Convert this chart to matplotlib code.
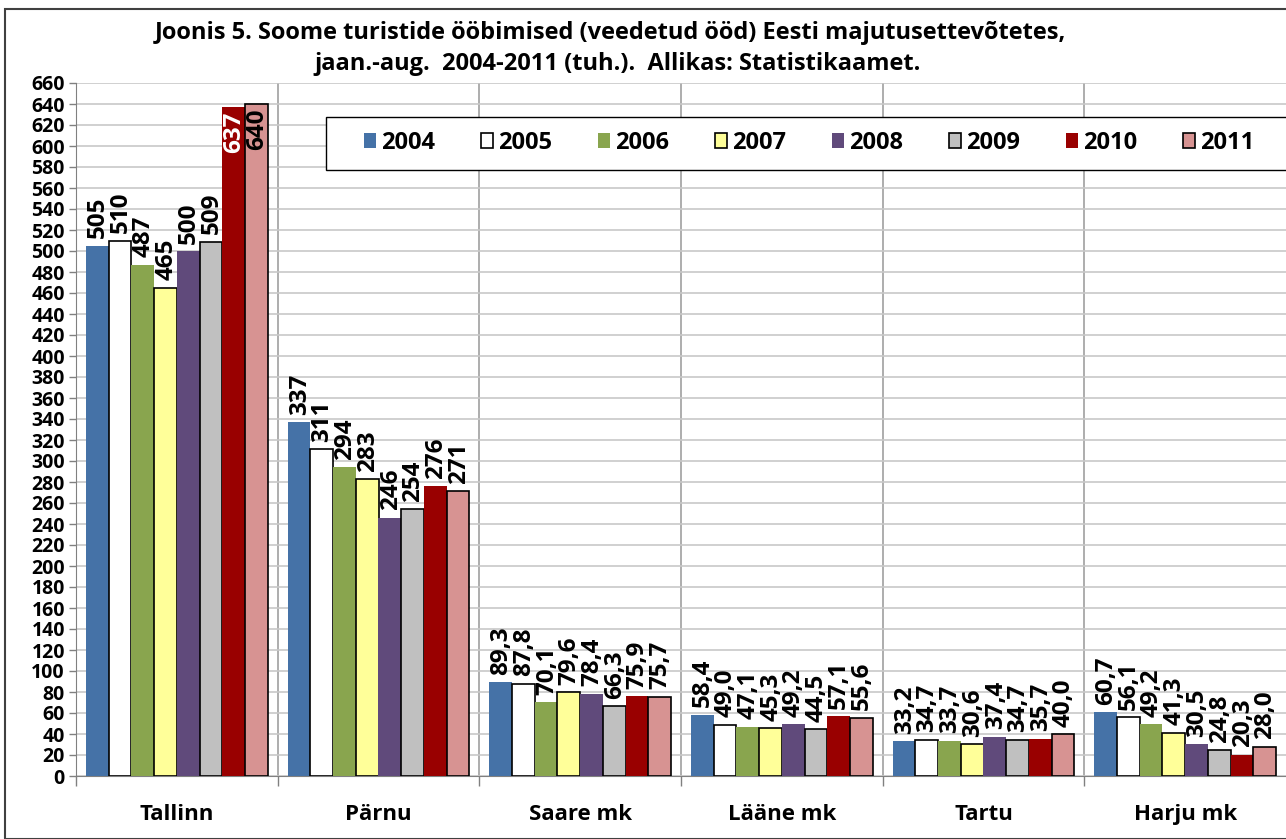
import numpy as np
import matplotlib.pyplot as plt
from matplotlib.patches import Rectangle

plt.rcParams['font.family'] = ['Open Sans', 'DejaVu Sans']

categories = ["Tallinn", "Pärnu", "Saare mk", "Lääne mk", "Tartu", "Harju mk"]
years = ["2004", "2005", "2006", "2007", "2008", "2009", "2010", "2011"]
values = [
    [505, 337, 89.3, 58.4, 33.2, 60.7],   # 2004
    [510, 311, 87.8, 49.0, 34.7, 56.1],   # 2005
    [487, 294, 70.1, 47.1, 33.7, 49.2],   # 2006
    [465, 283, 79.6, 45.3, 30.6, 41.3],   # 2007
    [500, 246, 78.4, 49.2, 37.4, 30.5],   # 2008
    [509, 254, 66.3, 44.5, 34.7, 24.8],   # 2009
    [637, 276, 75.9, 57.1, 35.7, 20.3],   # 2010
    [640, 271, 75.7, 55.6, 40.0, 28.0],   # 2011
]
labels = [
    ["505", "337", "89,3", "58,4", "33,2", "60,7"],
    ["510", "311", "87,8", "49,0", "34,7", "56,1"],
    ["487", "294", "70,1", "47,1", "33,7", "49,2"],
    ["465", "283", "79,6", "45,3", "30,6", "41,3"],
    ["500", "246", "78,4", "49,2", "37,4", "30,5"],
    ["509", "254", "66,3", "44,5", "34,7", "24,8"],
    ["637", "276", "75,9", "57,1", "35,7", "20,3"],
    ["640", "271", "75,7", "55,6", "40,0", "28,0"],
]
colors = ["#4572A7", "#FFFFFF", "#89A54E", "#FFFF99", "#604A7B", "#C0C0C0", "#990000", "#D79392"]
edges = [None, "black", None, "black", None, "black", None, "black"]

W, H = 1286, 839
fig = plt.figure(figsize=(W / 100, H / 100), dpi=100)
fig.patches.append(Rectangle((5 / W, 0), 1, 1 - 9 / H, transform=fig.transFigure,
                             fill=False, edgecolor="#404040", lw=1.5))
ax = fig.add_axes([76 / W, 63 / H, 1 - 76 / W, (776 - 83) / H])

x = np.arange(len(categories))
n = len(years)
group_w = 0.9
bw = group_w / n
for i in range(n):
    pos = x - group_w / 2 + bw * (i + 0.5)
    if edges[i]:
        bars = ax.bar(pos, values[i], bw, color=colors[i], edgecolor=edges[i], lw=1.2,
                      label=years[i], zorder=3)
    else:
        bars = ax.bar(pos, values[i], bw, color=colors[i], lw=0, label=years[i], zorder=3)
    for j, b in enumerate(bars):
        v = values[i][j]
        if v > 600:
            c = "white" if i == 6 else "black"
            ax.text(pos[j] + 0.004, v - 4, labels[i][j], rotation=90, ha="center", va="top",
                    fontsize=17.5, fontweight="bold", color=c, zorder=4)
        else:
            ax.text(pos[j] + 0.004, v + 7, labels[i][j], rotation=90, ha="center", va="bottom",
                    fontsize=17.5, fontweight="bold", color="black", zorder=4)

ax.set_xlim(-0.5, len(categories) - 0.5)
ax.set_ylim(0, 660)
ax.set_yticks(np.arange(0, 661, 20))
ax.tick_params(axis="y", labelsize=14, length=5, width=1, color="#808080", pad=3)
for t in ax.get_yticklabels():
    t.set_fontweight("bold")
ax.set_xticks(x)
ax.set_xticklabels(categories, fontsize=16, fontweight="bold")
ax.tick_params(axis="x", length=0, pad=20)
ax.set_xticks(np.arange(len(categories)) - 0.5, minor=True)
ax.tick_params(axis="x", which="minor", length=7, width=1, color="#808080")
ax.grid(axis="y", color="#C8C8C8", lw=1.2, zorder=0)
for k in range(1, len(categories)):
    ax.axvline(k - 0.5, color="#A0A0A0", lw=1.2, zorder=1)
for s in ["top", "right"]:
    ax.spines[s].set_visible(False)
ax.spines["left"].set_color("#808080")
ax.spines["bottom"].set_color("#808080")

# legend box
box = Rectangle((326 / W, 1 - 170 / H), 1.0, 53 / H, transform=fig.transFigure,
                facecolor="white", edgecolor="black", lw=1.0, zorder=5, clip_on=False)
ax.add_patch(box)
leg = ax.legend(loc="center left", bbox_to_anchor=(364 / W, 1 - 143 / H),
                bbox_transform=fig.transFigure, ncol=8, frameon=False, fontsize=17,
                handlelength=0.5, handleheight=0.62, handletextpad=0.22, columnspacing=1.95,
                borderpad=0, borderaxespad=0)
leg.set_zorder(6)
for t in leg.get_texts():
    t.set_fontweight("bold")

fig.text(610 / W, 1 - 33 / H, "Joonis 5. Soome turistide ööbimised (veedetud ööd) Eesti majutusettevõtetes,",
         ha="center", va="center", fontsize=17, fontweight="bold")
fig.text(618 / W, 1 - 64 / H, "jaan.-aug.  2004-2011 (tuh.).  Allikas: Statistikaamet.",
         ha="center", va="center", fontsize=17, fontweight="bold")

fig.savefig("out.png", dpi=100)
